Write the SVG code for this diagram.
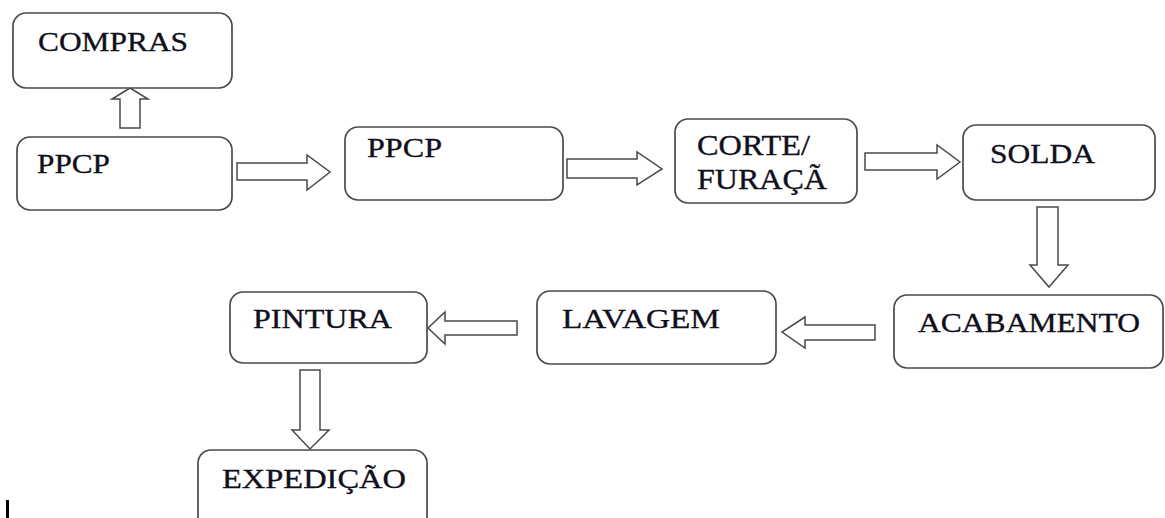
<svg xmlns="http://www.w3.org/2000/svg" width="1165" height="518" viewBox="0 0 1165 518">
  <style>
    .box { fill: #ffffff; stroke: #4a4a4a; stroke-width: 1.7; }
    .arrow { fill: #ffffff; stroke: #4a4a4a; stroke-width: 1.5; stroke-linejoin: miter; }
    .label { font-family: "Liberation Serif", "Times New Roman", serif; font-size: 28px; fill: #10101c; stroke: #10101c; stroke-width: 0.35; }
    .label2 { font-family: "Liberation Serif", "Times New Roman", serif; font-size: 29px; fill: #10101c; stroke: #10101c; stroke-width: 0.35; }
  </style>
  <rect width="1165" height="518" fill="#ffffff"/>

  <!-- block arrows between process steps -->
  <g id="connectors">
    <path class="arrow" d="M120,128 L120,99 L112,99 L130,88 L148,99 L140,99 L140,128 Z"/>
    <path class="arrow" d="M237,163 L307,163 L307,155 L330,172 L307,190 L307,180 L237,180 Z"/>
    <path class="arrow" d="M567,159 L637,159 L637,152 L662,169 L637,185 L637,178 L567,178 Z"/>
    <path class="arrow" d="M865,153 L937,153 L937,145 L960,162 L937,179 L937,170 L865,170 Z"/>
    <path class="arrow" d="M1037,207 L1058,207 L1058,265 L1068,265 L1049,287 L1030,265 L1037,265 Z"/>
    <path class="arrow" d="M875,325 L805,325 L805,317 L782,332 L805,348 L805,340 L875,340 Z"/>
    <path class="arrow" d="M517,321 L445,321 L445,312 L428,328 L445,344 L445,335 L517,335 Z"/>
    <path class="arrow" d="M300,370 L320,370 L320,430 L329,430 L310,449 L292,430 L300,430 Z"/>
  </g>

  <g id="compras">
    <rect class="box" x="13" y="13" width="219" height="75" rx="13"/>
    <text class="label" x="38" y="51" textLength="150" lengthAdjust="spacingAndGlyphs">COMPRAS</text>
  </g>

  <g id="ppcp1">
    <rect class="box" x="17" y="137" width="215" height="73" rx="13"/>
    <text class="label" x="37" y="173" textLength="73" lengthAdjust="spacingAndGlyphs">PPCP</text>
  </g>

  <g id="ppcp2">
    <rect class="box" x="345" y="127" width="218" height="73" rx="13"/>
    <text class="label" x="367" y="157" textLength="75" lengthAdjust="spacingAndGlyphs">PPCP</text>
  </g>

  <g id="corte">
    <rect class="box" x="675" y="119" width="182" height="84" rx="13"/>
    <text class="label2" x="697" y="155" textLength="113" lengthAdjust="spacingAndGlyphs">CORTE/</text>
    <text class="label2" x="697" y="189" textLength="130" lengthAdjust="spacingAndGlyphs">FURAÇÃ</text>
  </g>

  <g id="solda">
    <rect class="box" x="963" y="125" width="192" height="75" rx="13"/>
    <text class="label" x="990" y="163" textLength="105" lengthAdjust="spacingAndGlyphs">SOLDA</text>
  </g>

  <g id="acabamento">
    <rect class="box" x="894" y="295" width="269" height="73" rx="13"/>
    <text class="label" x="918" y="332" textLength="222" lengthAdjust="spacingAndGlyphs">ACABAMENTO</text>
  </g>

  <g id="lavagem">
    <rect class="box" x="537" y="291" width="239" height="73" rx="13"/>
    <text class="label" x="562" y="328" textLength="158" lengthAdjust="spacingAndGlyphs">LAVAGEM</text>
  </g>

  <g id="pintura">
    <rect class="box" x="230" y="292" width="197" height="71" rx="13"/>
    <text class="label" x="253" y="328" textLength="139" lengthAdjust="spacingAndGlyphs">PINTURA</text>
  </g>

  <g id="expedicao">
    <rect class="box" x="198" y="450" width="229" height="90" rx="13"/>
    <text class="label" x="222" y="488" textLength="184" lengthAdjust="spacingAndGlyphs">EXPEDIÇÃO</text>
  </g>

  <!-- stray cursor mark at the lower left -->
  <rect x="6" y="500" width="3" height="18" fill="#000000"/>
</svg>
